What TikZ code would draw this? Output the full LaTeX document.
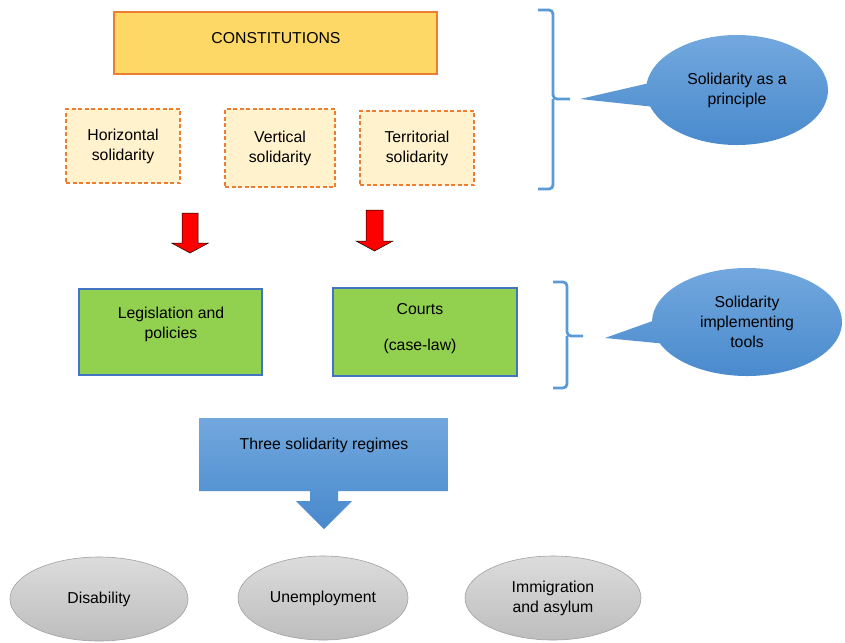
\documentclass[tikz,border=0pt]{standalone}
\usepackage{fontspec}
\setmainfont{Liberation Sans}
\usetikzlibrary{shapes.geometric,shapes.callouts}
\definecolor{gold}{HTML}{FDD867}
\definecolor{orng}{HTML}{ED7D31}
\definecolor{paleor}{HTML}{FFF2CC}
\definecolor{grn}{HTML}{92D050}
\definecolor{bluebd}{HTML}{4472C4}
\definecolor{bracec}{HTML}{5B9BD5}
\definecolor{bltop}{HTML}{72A8DE}
\definecolor{blbot}{HTML}{4788CC}
\definecolor{grtop}{HTML}{DCDCDC}
\definecolor{grbot}{HTML}{BDBDBD}
\definecolor{grbd}{HTML}{A0A0A0}
\tikzset{
  txt/.style={font=\fontsize{15.8}{20}\selectfont, align=center, text=black},
  constbox/.style={rectangle, draw=orng, line width=1.2pt, fill=gold},
  solbox/.style={rectangle, draw=orng, dash pattern=on 4pt off 2.5pt, line width=1.4pt, fill=paleor, txt},
  toolbox/.style={rectangle, draw=bluebd, line width=1.2pt, fill=grn},
  brc/.style={draw=bracec, line width=2.8pt, rounded corners=4pt},
  bubble/.style={ellipse callout, callout pointer arc=24, top color=bltop, bottom color=blbot, draw=none, txt},
  redarrow/.style={fill=red, draw=black, line width=0.5pt},
  regime/.style={ellipse, top color=grtop, bottom color=grbot, draw=grbd, line width=0.6pt, txt, inner sep=0pt},
}
\begin{document}
\begin{tikzpicture}[x=1pt,y=-1pt]
\useasboundingbox (0,0) rectangle (845,642);

% top boxes
\node[constbox, minimum width=323pt, minimum height=62pt] (const) at (275.5,43) {};
\node[txt] (constt) at (276,38) {CONSTITUTIONS};
\node[solbox, minimum width=114pt, minimum height=74pt] (hor) at (123,146) {Horizontal\\solidarity};
\node[solbox, minimum width=110pt, minimum height=78pt] (ver) at (280,148) {Vertical\\solidarity};
\node[solbox, minimum width=114pt, minimum height=74pt] (ter) at (417,148) {Territorial\\solidarity};

% brace 1
\coordinate (b1) at (570,99);
\draw[brc] (538,10) -- (553,10) -- (553,99) -- (b1);
\draw[brc] (538,189) -- (553,189) -- (553,99);
\node[bubble, minimum width=182pt, minimum height=110pt, callout absolute pointer={(580,99)}] (princ) at (737,90) {Solidarity as a\\principle};

% red arrows
\coordinate (ra1) at (190,213);
\draw[redarrow] (ra1) ++(-8,0) -- ++(16,0) -- ++(0,30) -- ++(10.5,0) -- (190,253) -- (171.5,243) -- (182,243) -- cycle;
\coordinate (ra2) at (374.5,210);
\draw[redarrow] (ra2) ++(-8.5,0) -- ++(17,0) -- ++(0,31) -- ++(10,0) -- (374.5,251) -- (356,241) -- (366,241) -- cycle;

% tool boxes
\node[toolbox, minimum width=183pt, minimum height=86pt] (leg) at (170.5,332) {};
\node[txt] (legt) at (171,324) {Legislation and\\policies};
\node[toolbox, minimum width=184pt, minimum height=88pt] (court) at (425,332) {};
\node[txt] (courtt) at (420,329) {Courts\\[16pt](case-law)};

% brace 2
\coordinate (b2) at (583,336);
\draw[brc] (553,282) -- (567,282) -- (567,336) -- (b2);
\draw[brc] (553,388) -- (567,388) -- (567,336);
\node[bubble, minimum width=190pt, minimum height=108pt, callout absolute pointer={(605,338)}] (tools) at (747,322) {Solidarity\\implementing\\tools};

% three regimes
\coordinate (rg) at (323.5,418);
\shade[top color=bltop, bottom color=blbot] (199,418) -- (448,418) -- (448,491) -- (338,491) -- (338,501) -- (352,501) -- (324,529) -- (296,501) -- (310,501) -- (310,491) -- (199,491) -- cycle;
\node[txt] (rgt) at (324,445) {Three solidarity regimes};

% regimes
\node[regime, minimum width=178pt, minimum height=84pt] (dis) at (99,599) {Disability};
\node[regime, minimum width=170pt, minimum height=84pt] (unemp) at (323,598) {Unemployment};
\node[regime, minimum width=176pt, minimum height=84pt] (imm) at (553,598) {Immigration\\and asylum};
\end{tikzpicture}
\end{document}
